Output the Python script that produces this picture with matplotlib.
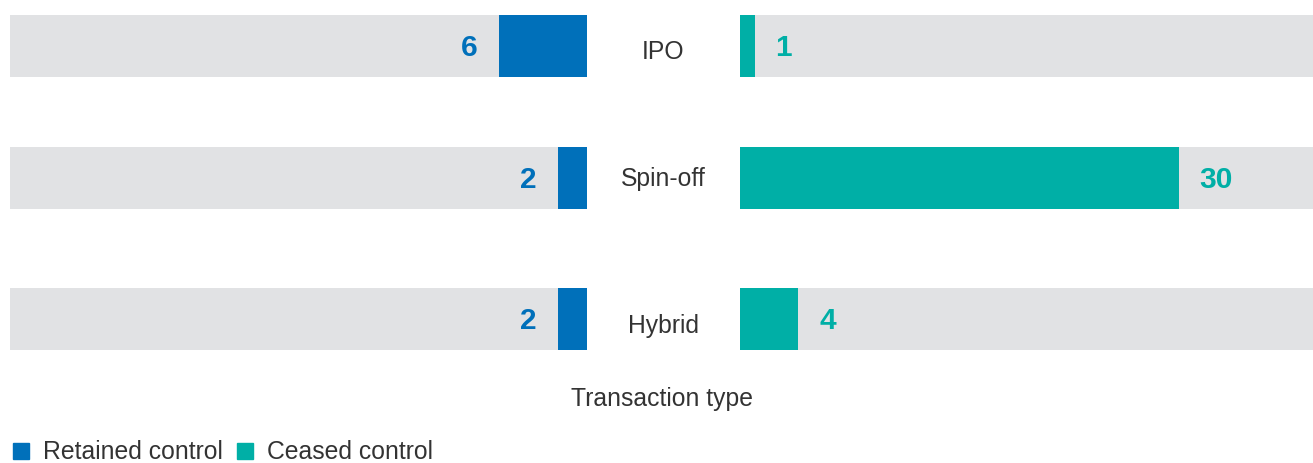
import numpy as np
import matplotlib.pyplot as plt
from matplotlib.lines import Line2D

# data
categories = ['IPO', 'Spin-off', 'Hybrid']
retained = [6, 2, 2]
ceased = [1, 30, 4]
axis_max = 39.2

# layout (row positions, slightly uneven as in the original)
row_pos = np.array([0, 1, 2.07])
label_shift = [6, 1, 7]  # px nudges of the category labels
bar_h = 0.47

blue = '#0070BA'
teal = '#00AFA6'
grey = '#E1E2E4'
txt = '#333333'

plt.rcParams['font.family'] = ['Liberation Sans', 'DejaVu Sans']

W, H = 1313, 463
fig = plt.figure(figsize=(W / 100, H / 100), dpi=100)

ax_l = fig.add_axes([10 / W, 0, 577 / W, 1])
ax_r = fig.add_axes([740 / W, 0, 573 / W, 1])

for ax in (ax_l, ax_r):
    ax.barh(row_pos, axis_max, height=bar_h, color=grey)
    ax.set_xlim(0, axis_max)
    ax.set_ylim(3.159, -0.348)
    ax.axis('off')
ax_l.invert_xaxis()

ax_l.barh(row_pos, retained, height=bar_h, color=blue)
ax_r.barh(row_pos, ceased, height=bar_h, color=teal)

for y, v in zip(row_pos, retained):
    ax_l.annotate(str(v), (v, y), xytext=(-15, -1.5), textcoords='offset points',
                  ha='right', va='center', fontsize=21.5, fontweight='bold', color=blue)
for y, v in zip(row_pos, ceased):
    ax_r.annotate(str(v), (v, y), xytext=(15, -1.5), textcoords='offset points',
                  ha='left', va='center', fontsize=21.5, fontweight='bold', color=teal)

# category labels in the middle gap
for y, c, s in zip(row_pos, categories, label_shift):
    yf = 1 - (46 + 132 * y + s) / H
    fig.text(663 / W, yf, c, ha='center', va='center', fontsize=17.8, color=txt)

fig.text(662 / W, 1 - 399 / H, 'Transaction type', ha='center', va='center',
         fontsize=17.8, color=txt)

handles = [Line2D([], [], marker='s', linestyle='none', markersize=12, color=blue),
           Line2D([], [], marker='s', linestyle='none', markersize=12, color=teal)]
fig.legend(handles, ['Retained control', 'Ceased control'], loc='lower left',
           bbox_to_anchor=(-0.003, -0.035), ncol=2, frameon=False, fontsize=17.8,
           handlelength=0.8, handletextpad=0.5, columnspacing=0.5,
           labelcolor=txt, borderaxespad=0.2)

fig.savefig('out.png', dpi=100)
